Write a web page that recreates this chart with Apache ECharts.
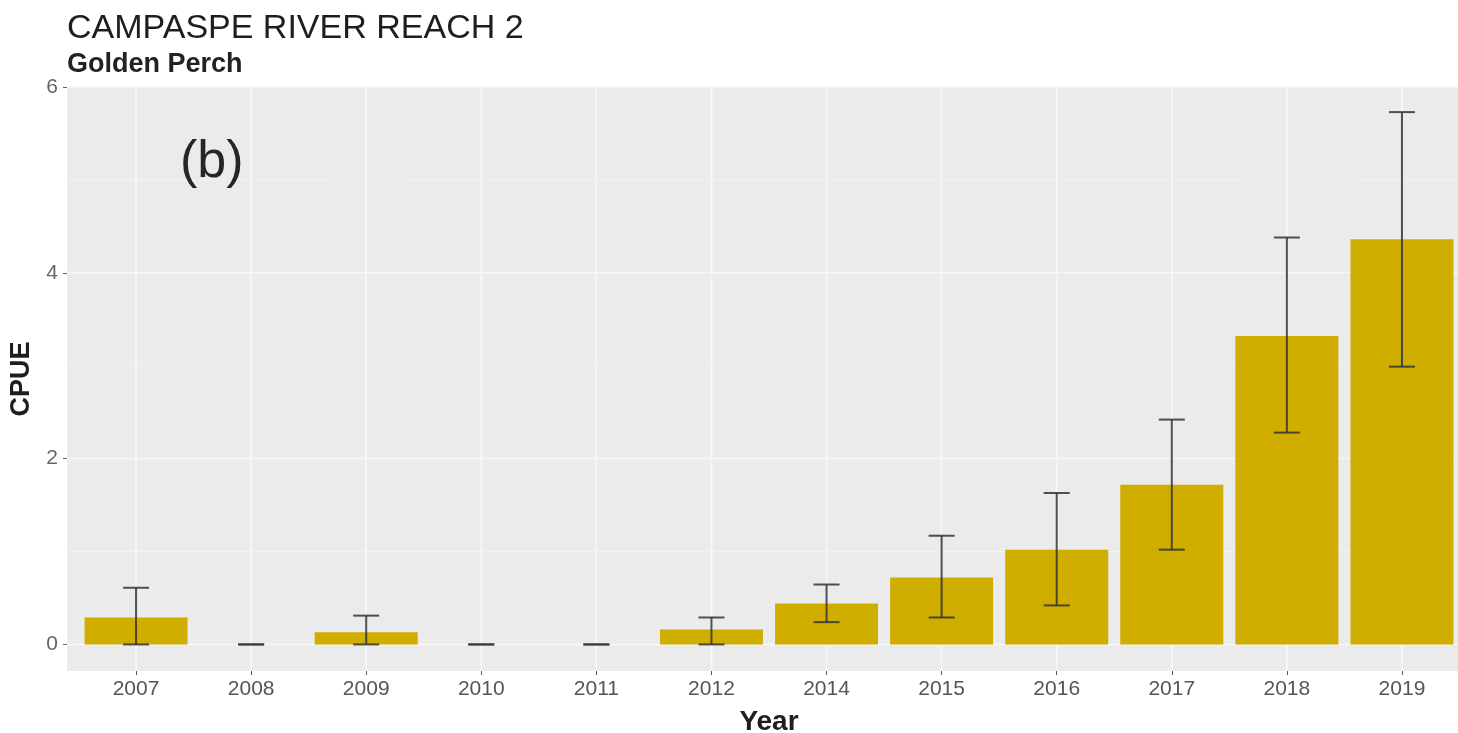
<!DOCTYPE html>
<html>
<head>
<meta charset="utf-8">
<script src="https://cdn.jsdelivr.net/npm/echarts@6/dist/echarts.min.js"></script>
<style>
html,body{margin:0;padding:0;background:#fff;}
#chart{width:1458px;height:733px;}
</style>
</head>
<body>
<div id="chart"></div>
<script>
const years = ['2007','2008','2009','2010','2011','2012','2014','2015','2016','2017','2018','2019'];
const cpue = [0.29, 0, 0.13, 0, 0, 0.16, 0.44, 0.72, 1.02, 1.72, 3.32, 4.36];
const errLow = [0, 0, 0, 0, 0, 0, 0.24, 0.29, 0.42, 1.02, 2.28, 2.99];
const errHigh = [0.61, 0, 0.31, 0, 0, 0.29, 0.645, 1.17, 1.63, 2.42, 4.38, 5.73];
const yTicks = [0, 2, 4, 6];
const yMinor = [1, 3, 5];

const xIdx = years.map((_, i) => i);
const chart = echarts.init(document.getElementById('chart'));
const font = '"Liberation Sans", Arial, sans-serif';

const barData = cpue.map((v, i) => [i, v]);
const errData = years.map((y, i) => [i, errLow[i], errHigh[i]]);
const hLines = yMinor.map(v => [0, v, 0]).concat(yTicks.map(v => [0, v, 1]));
const vLines = xIdx.map(i => [i, 0]);

chart.setOption({
  animation: false,
  backgroundColor: '#ffffff',
  graphic: [
    { type: 'text', x: 67, y: 29, z: 10,
      style: { text: 'CAMPASPE RIVER REACH 2', font: '34px "Liberation Sans", Arial, sans-serif', fill: '#1e1e1e', verticalAlign: 'middle' } },
    { type: 'text', x: 67, y: 65, z: 10,
      style: { text: 'Golden Perch', font: 'bold 27px "Liberation Sans", Arial, sans-serif', fill: '#222222', verticalAlign: 'middle' } },
    { type: 'text', x: 180, y: 163, z: 10,
      style: { text: '(b)', font: '52px "Liberation Sans", Arial, sans-serif', fill: '#262626', verticalAlign: 'middle' } }
  ],
  grid: { left: 67, width: 1404, top: 87, bottom: 62, outerBoundsMode: 'none', containLabel: false,
          show: true, backgroundColor: '#ebebeb', borderWidth: 0 },
  xAxis: {
    type: 'value', min: -0.6, max: 11.6,
    name: 'Year', nameLocation: 'middle', nameGap: 37,
    nameTextStyle: { fontFamily: font, fontSize: 28, fontWeight: 'bold', color: '#1e1e1e' },
    axisLine: { show: false, onZero: false },
    axisTick: { show: true, length: 4, customValues: xIdx, lineStyle: { color: '#555' } },
    axisLabel: { fontFamily: font, fontSize: 21, color: '#555', margin: 8, customValues: xIdx,
                 formatter: v => years[Math.round(v)] },
    splitLine: { show: false }
  },
  yAxis: {
    type: 'value', min: -0.286, max: 6.0,
    name: 'CPUE', nameLocation: 'middle', nameGap: 24, nameRotate: 90,
    nameTextStyle: { fontFamily: font, fontSize: 27, fontWeight: 'bold', color: '#1e1e1e' },
    axisLine: { show: false, onZero: false },
    axisTick: { show: true, length: 4, customValues: yTicks, lineStyle: { color: '#666' } },
    axisLabel: { fontFamily: font, fontSize: 21, color: '#666', margin: 9, customValues: yTicks },
    splitLine: { show: false }
  },
  series: [
    {
      type: 'custom', z: 0, silent: true, data: hLines,
      renderItem: function (params, api) {
        const cs = params.coordSys;
        const p = api.coord([0, api.value(1)]);
        const major = api.value(2) === 1;
        return { type: 'line', shape: { x1: cs.x, y1: p[1], x2: cs.x + cs.width, y2: p[1] },
                 style: { stroke: major ? '#f6f6f6' : '#f2f2f2', lineWidth: major ? 2 : 1 } };
      }
    },
    {
      type: 'custom', z: 0, silent: true, data: vLines,
      renderItem: function (params, api) {
        const cs = params.coordSys;
        const p = api.coord([api.value(0), 0]);
        return { type: 'line', shape: { x1: p[0], y1: cs.y, x2: p[0], y2: cs.y + cs.height },
                 style: { stroke: '#f6f6f6', lineWidth: 2 } };
      }
    },
    {
      type: 'bar', data: barData, barWidth: 103, z: 2,
      itemStyle: { color: '#cfae00' }
    },
    {
      type: 'custom', z: 3, data: errData,
      encode: { x: 0, y: [1, 2] },
      renderItem: function (params, api) {
        const x = api.value(0);
        const lo = api.coord([x, api.value(1)]);
        const hi = api.coord([x, api.value(2)]);
        const hw = 13;
        const style = { stroke: '#333333', lineWidth: 2, opacity: 0.85 };
        return {
          type: 'group',
          children: [
            { type: 'line', shape: { x1: lo[0], y1: lo[1], x2: hi[0], y2: hi[1] }, style },
            { type: 'line', shape: { x1: lo[0] - hw, y1: lo[1], x2: lo[0] + hw, y2: lo[1] }, style },
            { type: 'line', shape: { x1: hi[0] - hw, y1: hi[1], x2: hi[0] + hw, y2: hi[1] }, style }
          ]
        };
      }
    }
  ]
});
</script>
</body>
</html>
